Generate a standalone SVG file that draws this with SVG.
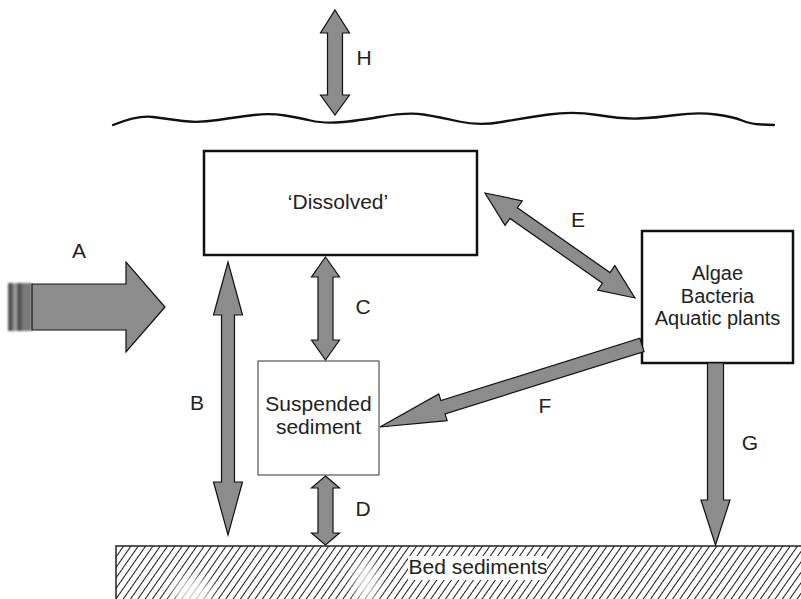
<svg xmlns="http://www.w3.org/2000/svg" width="801" height="599" viewBox="0 0 801 599">
  <defs>
    <pattern id="hatch" patternUnits="userSpaceOnUse" width="6" height="6" patternTransform="rotate(35)">
      <line x1="0.5" y1="0" x2="0.5" y2="6" stroke="#1a1a1a" stroke-width="1"/>
    </pattern>
    <filter id="soft" x="-50%" y="-50%" width="200%" height="200%">
      <feGaussianBlur stdDeviation="6"/>
    </filter>
    <filter id="smear" x="-20%" y="-20%" width="140%" height="140%">
      <feGaussianBlur stdDeviation="0.9"/>
    </filter>
  </defs>
  <style>
    .box { fill: #fff; stroke: #111; stroke-width: 2.5; }
    .thin { fill: #fff; stroke: #333; stroke-width: 1; }
    .arrow { fill: #8c8c8c; stroke: #111; stroke-width: 1.2; stroke-linejoin: miter; }
    .txt { font-family: "Liberation Sans", Arial, sans-serif; font-size: 21px; fill: #222; text-anchor: middle; }
    .stack { font-size: 20px; }
    .water { fill: none; stroke: #111; stroke-width: 2.3; stroke-linecap: round; stroke-linejoin: round; }
  </style>

  <rect width="801" height="599" fill="#fff"/>

  <!-- water surface -->
  <path id="surface" class="water" d="M113,125 Q138,115 153,117 Q168,119 183,121 Q198,123 218,120 Q238,117 254,115 Q270,113 285,115.5 Q300,118 310.5,120.5 Q321,123 335.5,122.5 Q350,122 379,117 Q408,112 423.5,114.5 Q439,117 459,121.5 Q479,126 501.5,122 Q524,118 548.5,114.5 Q573,111 597.5,115 Q622,119 638,118.5 Q654,118 676,115 Q698,112 716,114.5 Q734,117 742,120.5 Q750,124 762,124.5 L774,125"/>

  <!-- bed sediments -->
  <g id="bed">
    <rect x="116" y="546" width="700" height="70" fill="url(#hatch)" stroke="#222" stroke-width="1.5"/>
    <ellipse cx="192" cy="592" rx="20" ry="16" fill="#fff" opacity="0.75" filter="url(#soft)"/>
    <ellipse cx="366" cy="582" rx="12" ry="22" fill="#fff" opacity="0.75" filter="url(#soft)"/>
    <rect x="408" y="556" width="139" height="24" fill="#fff"/>
    <text class="txt" x="478" y="574">Bed sediments</text>
  </g>

  <!-- compartments -->
  <g id="dissolved">
    <rect class="box" x="204" y="151" width="273" height="104"/>
    <text class="txt" x="338" y="209">‘Dissolved’</text>
  </g>
  <g id="biota">
    <rect class="box" x="642" y="231" width="151" height="132"/>
    <text class="txt stack" x="717.5" y="280">Algae</text>
    <text class="txt stack" x="717.5" y="302.5">Bacteria</text>
    <text class="txt stack" x="717.5" y="325">Aquatic plants</text>
  </g>
  <g id="suspended">
    <rect class="thin" x="258" y="361" width="121" height="114"/>
    <text class="txt" x="318.5" y="411">Suspended</text>
    <text class="txt" x="318.5" y="434">sediment</text>
  </g>

  <!-- transfer pathways -->
  <g id="connectors">
    <!-- A: inflow -->
    <g filter="url(#smear)">
      <rect x="8" y="283" width="5" height="48" fill="#555"/>
      <rect x="13" y="283" width="4" height="48" fill="#9a9a9a"/>
      <rect x="17" y="283" width="5" height="48" fill="#555"/>
      <rect x="22" y="283" width="10" height="48" fill="#7a7a7a"/>
    </g>
    <polygon class="arrow" transform="translate(165,307) rotate(180)" points="0,0 39,-45 39,-23 133,-23 133,23 39,23 39,45"/>
    <!-- B -->
    <polygon class="arrow" transform="translate(228,262) rotate(90)" points="0,0 53,-14.5 53,-6.5 220,-6.5 220,-14.5 273,0 220,14.5 220,6.5 53,6.5 53,14.5"/>
    <!-- C -->
    <polygon class="arrow" transform="translate(325.5,257) rotate(90)" points="0,0 20,-14 20,-7.5 83,-7.5 83,-14 103,0 83,14 83,7.5 20,7.5 20,14"/>
    <!-- D -->
    <polygon class="arrow" transform="translate(325.5,476) rotate(90)" points="0,0 12,-14 12,-7.5 57,-7.5 57,-14 69,0 57,14 57,7.5 12,7.5 12,14"/>
    <!-- E -->
    <polygon class="arrow" transform="translate(485,193) rotate(35)" points="0,0 35,-15 35,-6.5 148,-6.5 148,-15 183,0 148,15 148,6.5 35,6.5 35,15"/>
    <!-- F -->
    <polygon class="arrow" transform="translate(380,427) rotate(-17.4)" points="0,0 66,-14 66,-7 274.5,-7 274.5,7 66,7 66,14"/>
    <!-- G -->
    <polygon class="arrow" transform="translate(715.5,545) rotate(-90)" points="0,0 45,-14.5 45,-8 182,-8 182,8 45,8 45,14.5"/>
    <!-- H -->
    <polygon class="arrow" transform="translate(335,10) rotate(90)" points="0,0 23,-14.5 23,-7.5 85,-7.5 85,-14.5 105,0 85,14.5 85,7.5 23,7.5 23,14.5"/>

    <text class="txt" x="79" y="258">A</text>
    <text class="txt" x="197" y="410">B</text>
    <text class="txt" x="363" y="314">C</text>
    <text class="txt" x="363" y="516">D</text>
    <text class="txt" x="578" y="227">E</text>
    <text class="txt" x="545" y="413">F</text>
    <text class="txt" x="750" y="450">G</text>
    <text class="txt" x="364" y="65">H</text>
  </g>
</svg>
